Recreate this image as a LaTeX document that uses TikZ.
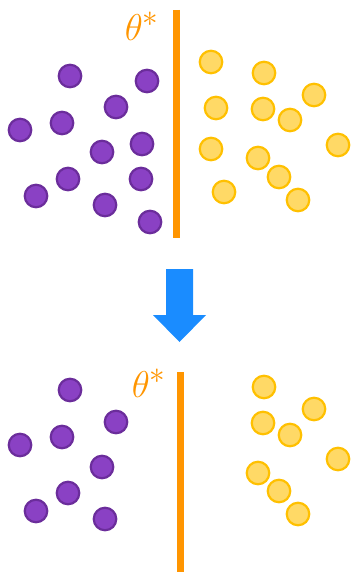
\documentclass[tikz,border=0pt]{standalone}
\usetikzlibrary{calc}
\definecolor{pfill}{HTML}{8A41C4}
\definecolor{pdraw}{HTML}{6B2D9B}
\definecolor{yfill}{HTML}{FFD966}
\definecolor{ydraw}{HTML}{FFC000}
\definecolor{orng}{HTML}{FF9500}
\definecolor{arrblue}{HTML}{1A8CFF}
\tikzset{
  pdot/.style={circle, fill=pfill, draw=pdraw, line width=2.2pt, minimum size=22.5pt, inner sep=0pt},
  ydot/.style={circle, fill=yfill, draw=ydraw, line width=2.2pt, minimum size=22.5pt, inner sep=0pt},
  bar/.style={draw=orng, line width=7.5pt},
  thlabel/.style={text=orng, font=\Huge, scale=1.5, inner sep=0pt}
}
\begin{document}
\begin{tikzpicture}[x=1pt,y=-1pt]
\useasboundingbox (0,0) rectangle (351,572);
% top panel
\coordinate (t1) at (176.5,10);
\coordinate (t2) at (176.5,238);
\draw[bar] (t1) -- (t2);
\node[thlabel] (th1) at (142,26) {$\theta^*$};
\foreach \n/\x/\y in {a/70/76, b/147/81, c/116/107, d/62/123, e/20/130, f/102/152, g/142/144, h/68/179, i/141/179, j/36/196, k/105/205, l/150/222}
  \node[pdot] (tp\n) at (\x,\y) {};
\foreach \n/\x/\y in {a/211/62, b/264/73, c/314/95, d/216/108, e/263/109, f/290/120, g/338/145, h/211/149, i/258/158, j/279/177, k/224/192, l/298/200}
  \node[ydot] (ty\n) at (\x,\y) {};
% arrow
\fill[arrblue] (166,269) -- (193,269) -- (193,315) -- (206,315) -- (179.5,342) -- (153,315) -- (166,315) -- cycle;
% bottom panel
\coordinate (b1) at (180.5,372);
\coordinate (b2) at (180.5,572);
\draw[bar] (b1) -- (b2);
\node[thlabel] (th2) at (149,383) {$\theta^*$};
\foreach \n/\x/\y in {a/70/390, c/116/422, d/62/437, e/20/445, f/102/467, h/68/493, j/36/511, k/105/519}
  \node[pdot] (bp\n) at (\x,\y) {};
\foreach \n/\x/\y in {b/264/387, c/314/409, e/263/423, f/290/435, g/338/459, i/258/473, j/279/491, l/298/514}
  \node[ydot] (by\n) at (\x,\y) {};
\end{tikzpicture}
\end{document}
